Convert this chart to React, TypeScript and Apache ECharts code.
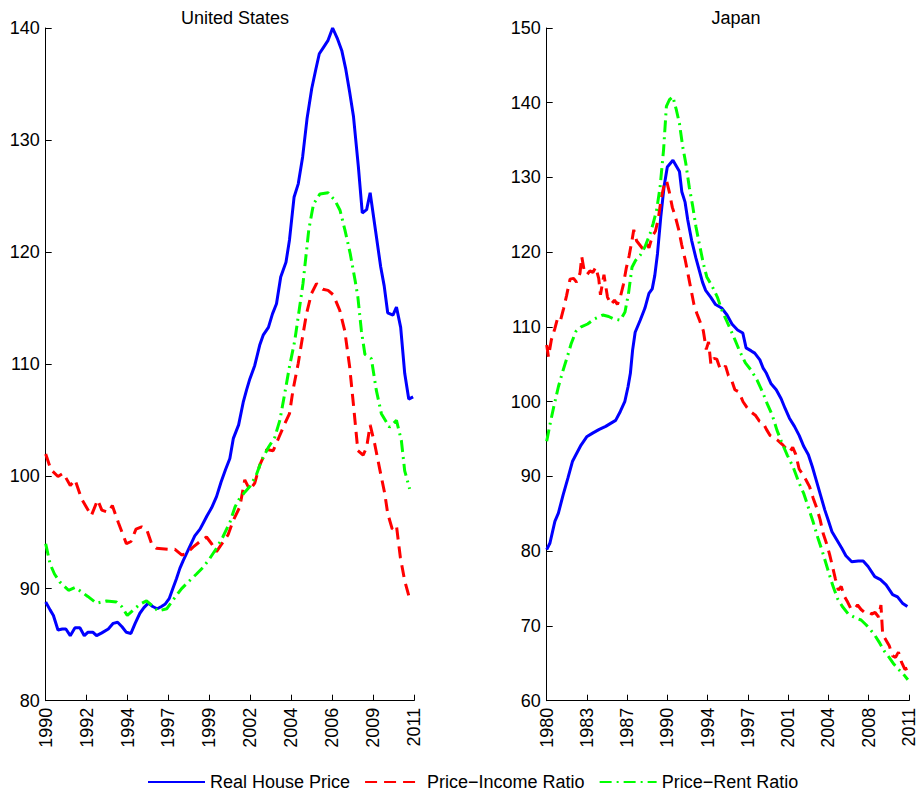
import React, { useEffect, useRef } from "react";
import * as echarts from "echarts";

const US_TICK_LABELS = ["1990", "1992", "1994", "1997", "1999", "2002", "2004", "2006", "2009", "2011"];
const JP_TICK_LABELS = ["1980", "1983", "1987", "1990", "1994", "1997", "2001", "2004", "2008", "2011"];
const LEGEND_NAMES = ["Real House Price", "Price\u2212Income Ratio", "Price\u2212Rent Ratio"];

const usRealHousePrice: number[][] = [
  [1990.0, 88.8], [1990.25, 88.1], [1990.44, 87.6], [1990.7, 86.3], [1990.95, 86.4], [1991.15, 86.4], [1991.4, 85.8],
  [1991.67, 86.5], [1991.95, 86.5], [1992.2, 85.8], [1992.4, 86.1], [1992.7, 86.1], [1992.9, 85.8], [1993.2, 86.05],
  [1993.57, 86.4], [1993.85, 86.9], [1994.1, 87.0], [1994.35, 86.6], [1994.6, 86.1], [1994.86, 86.0], [1995.1, 86.9],
  [1995.37, 87.8], [1995.6, 88.3], [1995.85, 88.7], [1996.1, 88.4], [1996.36, 88.2], [1996.6, 88.4], [1996.8, 88.6],
  [1997.04, 89.1], [1997.25, 90.0], [1997.46, 90.9], [1997.65, 91.8], [1997.84, 92.5], [1998.2, 93.7], [1998.5, 94.7],
  [1998.8, 95.3], [1999.0, 95.9], [1999.2, 96.5], [1999.46, 97.2], [1999.74, 98.2], [2000.0, 99.5], [2000.25, 100.6],
  [2000.5, 101.6], [2000.7, 103.4], [2001.0, 104.6], [2001.26, 106.6], [2001.45, 107.7], [2001.64, 108.7],
  [2001.92, 109.9], [2002.2, 111.7], [2002.4, 112.6], [2002.7, 113.3], [2002.93, 114.5], [2003.16, 115.4],
  [2003.4, 117.8], [2003.7, 119.1], [2003.9, 121.1], [2004.16, 124.9], [2004.4, 126.1], [2004.65, 128.5],
  [2004.9, 131.9], [2005.17, 134.6], [2005.4, 136.3], [2005.6, 137.7], [2005.85, 138.3], [2006.1, 138.9],
  [2006.36, 140.0], [2006.62, 139.1], [2006.88, 138.0], [2007.1, 136.4], [2007.33, 134.3], [2007.55, 132.1],
  [2007.83, 127.6], [2008.05, 123.5], [2008.3, 123.8], [2008.5, 125.3], [2008.8, 122.0], [2009.1, 118.7],
  [2009.3, 117.0], [2009.5, 114.6], [2009.8, 114.4], [2010.0, 115.1], [2010.24, 113.3], [2010.47, 109.2],
  [2010.7, 106.9], [2010.95, 107.1],
];

const usPriceIncome: number[][] = [
  [1990.0, 102.0], [1990.3, 100.6], [1990.7, 100.0], [1991.0, 100.3], [1991.4, 99.2], [1991.67, 99.7], [1992.05, 98.0],
  [1992.6, 96.5], [1992.96, 97.9], [1993.2, 97.0], [1993.57, 96.8], [1993.8, 97.4], [1994.14, 95.9], [1994.6, 94.0],
  [1994.86, 94.2], [1995.15, 95.3], [1995.47, 95.5], [1995.75, 95.3], [1996.04, 94.0], [1996.3, 93.6], [1997.0, 93.5],
  [1997.37, 93.5], [1997.75, 93.0], [1998.0, 93.1], [1998.4, 93.7], [1998.8, 94.2], [1999.17, 94.6], [1999.46, 94.0],
  [1999.74, 93.3], [2000.0, 93.9], [2000.4, 94.8], [2000.7, 96.1], [2001.07, 97.3], [2001.35, 99.7], [2001.64, 98.8],
  [2001.92, 99.4], [2002.2, 101.0], [2002.6, 102.4], [2002.97, 102.3], [2003.3, 103.5], [2003.63, 104.7],
  [2003.9, 105.6], [2004.1, 107.7], [2004.4, 110.1], [2004.64, 112.4], [2004.87, 114.5], [2005.15, 116.3],
  [2005.44, 117.2], [2005.8, 116.7], [2006.1, 116.6], [2006.4, 116.2], [2006.77, 114.8], [2007.05, 113.0],
  [2007.33, 109.8], [2007.56, 106.2], [2007.8, 102.3], [2008.1, 101.9], [2008.3, 102.6], [2008.5, 104.6],
  [2008.76, 102.9], [2009.04, 100.7], [2009.33, 98.5], [2009.5, 96.7], [2009.76, 95.3], [2010.0, 95.6],
  [2010.22, 92.8], [2010.47, 90.7], [2010.75, 89.1],
];

const usPriceRent: number[][] = [
  [1990.0, 94.0], [1990.25, 92.2], [1990.5, 91.3], [1990.8, 90.6], [1991.3, 89.85], [1991.67, 90.1], [1991.95, 89.8],
  [1992.4, 89.3], [1992.9, 88.7], [1993.47, 88.9], [1994.04, 88.8], [1994.33, 88.4], [1994.65, 87.6], [1995.0, 88.1],
  [1995.37, 88.6], [1995.75, 88.9], [1996.13, 88.4], [1996.4, 88.0], [1996.9, 88.2], [1997.27, 89.0], [1997.75, 90.0],
  [1998.2, 90.7], [1998.6, 91.3], [1998.98, 91.9], [1999.36, 92.7], [1999.74, 93.6], [2000.1, 94.6], [2000.5, 95.9],
  [2000.8, 97.3], [2001.0, 97.9], [2001.35, 98.6], [2001.64, 99.1], [2002.0, 100.1], [2002.3, 101.4], [2002.7, 102.6],
  [2003.06, 103.5], [2003.35, 105.0], [2003.63, 107.4], [2003.9, 109.8], [2004.2, 112.1], [2004.45, 114.8],
  [2004.67, 117.2], [2005.0, 122.0], [2005.27, 124.3], [2005.64, 125.2], [2006.1, 125.3], [2006.5, 124.6],
  [2006.78, 123.75], [2007.06, 122.0], [2007.36, 119.9], [2007.64, 117.5], [2007.8, 116.0], [2008.0, 113.0],
  [2008.2, 110.9], [2008.57, 110.5], [2008.85, 107.7], [2009.14, 105.6], [2009.6, 104.4], [2010.0, 105.0],
  [2010.28, 103.2], [2010.47, 100.5], [2010.75, 98.9],
];

const jpRealHousePrice: number[][] = [
  [1980.0, 80.2], [1980.28, 81.1], [1980.7, 84.0], [1981.0, 85.1], [1981.4, 87.5], [1981.82, 89.8], [1982.2, 92.0],
  [1982.5, 92.9], [1982.94, 94.2], [1983.42, 95.3], [1983.93, 95.8], [1984.5, 96.3], [1985.05, 96.7], [1985.47, 97.1],
  [1985.9, 97.5], [1986.3, 98.7], [1986.68, 100.0], [1986.96, 102.0], [1987.16, 103.8], [1987.35, 106.9],
  [1987.57, 109.3], [1988.0, 110.9], [1988.4, 112.5], [1988.75, 114.5], [1989.03, 115.1], [1989.25, 116.9],
  [1989.48, 119.8], [1989.76, 124.7], [1990.04, 128.75], [1990.32, 131.4], [1990.8, 132.3], [1991.36, 130.8],
  [1991.56, 128.1], [1991.84, 126.7], [1992.07, 124.3], [1992.4, 121.6], [1992.77, 119.2], [1993.05, 117.6],
  [1993.33, 116.0], [1993.6, 114.9], [1994.03, 114.0], [1994.45, 113.0], [1995.0, 112.5], [1995.43, 111.6],
  [1995.85, 110.4], [1996.33, 109.6], [1996.78, 109.2], [1997.06, 107.2], [1997.5, 106.8], [1997.8, 106.5],
  [1998.24, 105.6], [1998.52, 104.5], [1998.8, 103.8], [1999.2, 102.4], [1999.64, 101.6], [2000.06, 100.4],
  [2000.4, 99.1], [2000.77, 97.8], [2001.2, 96.7], [2001.6, 95.5], [2002.0, 94.0], [2002.39, 92.9], [2002.73, 91.3],
  [2003.06, 89.5], [2003.43, 87.5], [2003.8, 85.5], [2004.12, 84.0], [2004.41, 82.6], [2004.83, 81.5],
  [2005.25, 80.4], [2005.6, 79.4], [2006.1, 78.6], [2006.66, 78.7], [2007.08, 78.7], [2007.5, 77.95], [2008.07, 76.6],
  [2008.56, 76.2], [2009.04, 75.5], [2009.6, 74.2], [2010.02, 73.9], [2010.44, 73.05], [2010.86, 72.6],
];

const jpPriceIncome: number[][] = [
  [1980.0, 107.6], [1980.15, 106.0], [1980.4, 108.3], [1980.7, 109.8], [1980.95, 111.3], [1981.2, 111.0],
  [1981.45, 112.5], [1981.7, 114.2], [1982.0, 116.4], [1982.3, 116.5], [1982.55, 116.0], [1982.85, 117.2],
  [1983.0, 119.4], [1983.2, 117.6], [1983.45, 117.0], [1983.7, 117.5], [1983.95, 117.3], [1984.2, 118.0],
  [1984.45, 116.5], [1984.6, 114.3], [1984.9, 117.0], [1985.2, 114.0], [1985.5, 113.0], [1985.8, 113.6],
  [1986.05, 113.0], [1986.3, 114.0], [1986.55, 115.6], [1986.8, 117.8], [1987.05, 119.5], [1987.3, 121.6],
  [1987.45, 123.0], [1987.7, 121.5], [1987.95, 121.0], [1988.2, 120.5], [1988.5, 121.2], [1988.75, 120.6],
  [1989.05, 122.2], [1989.3, 122.8], [1989.55, 124.5], [1989.8, 127.2], [1990.05, 129.0], [1990.25, 129.6],
  [1990.5, 128.0], [1990.75, 126.0], [1991.0, 124.8], [1991.3, 123.0], [1991.55, 121.0], [1991.85, 119.0],
  [1992.1, 117.0], [1992.35, 115.0], [1992.6, 113.0], [1992.85, 111.8], [1993.1, 110.8], [1993.4, 109.5],
  [1993.65, 107.0], [1993.85, 108.0], [1994.05, 105.0], [1994.3, 105.8], [1994.55, 105.7], [1994.8, 104.6],
  [1995.05, 104.3], [1995.3, 104.8], [1995.55, 103.5], [1995.8, 103.0], [1996.1, 101.6], [1996.45, 101.3],
  [1996.8, 100.0], [1997.1, 99.3], [1997.5, 98.6], [1997.85, 98.2], [1998.2, 97.4], [1998.5, 97.2], [1998.8, 96.3],
  [1999.1, 95.5], [1999.45, 95.2], [1999.8, 94.8], [2000.15, 94.3], [2000.5, 93.7], [2000.8, 93.3], [2001.05, 93.9],
  [2001.3, 93.0], [2001.6, 91.0], [2001.9, 90.3], [2002.2, 89.5], [2002.5, 88.6], [2002.8, 87.1], [2003.1, 85.8],
  [2003.4, 84.2], [2003.65, 82.4], [2003.95, 81.0], [2004.2, 79.6], [2004.45, 78.0], [2004.7, 76.3], [2004.95, 74.8],
  [2005.2, 75.3], [2005.45, 74.0], [2005.75, 73.2], [2006.0, 72.4], [2006.3, 72.2], [2006.6, 72.8], [2006.9, 72.2],
  [2007.2, 71.8], [2007.5, 71.9], [2007.8, 71.6], [2008.1, 71.8], [2008.4, 71.2], [2008.6, 72.8], [2008.75, 68.8],
  [2009.0, 68.2], [2009.3, 67.4], [2009.6, 66.0], [2009.85, 65.8], [2010.1, 66.5], [2010.35, 65.2], [2010.65, 64.2],
  [2010.95, 64.4],
];

const jpPriceRent: number[][] = [
  [1980.0, 94.7], [1980.3, 97.1], [1980.6, 99.3], [1981.0, 102.0], [1981.4, 104.2], [1981.8, 106.2], [1982.1, 107.8],
  [1982.5, 109.4], [1982.95, 110.0], [1983.5, 110.4], [1984.1, 111.1], [1984.8, 111.6], [1985.3, 111.4],
  [1985.7, 111.1], [1986.3, 110.9], [1986.7, 112.0], [1987.0, 114.5], [1987.3, 118.0], [1987.6, 118.9],
  [1988.0, 119.6], [1988.4, 120.7], [1988.85, 122.5], [1989.1, 123.8], [1989.4, 125.6], [1989.7, 128.7],
  [1990.0, 133.7], [1990.24, 139.5], [1990.5, 140.4], [1990.8, 140.8], [1991.1, 139.0], [1991.36, 137.2],
  [1991.64, 134.1], [1991.9, 131.9], [1992.2, 128.7], [1992.5, 126.1], [1992.77, 123.4], [1993.05, 121.2],
  [1993.4, 118.5], [1993.7, 116.7], [1994.17, 115.4], [1994.6, 114.0], [1995.0, 112.2], [1995.43, 110.7],
  [1996.0, 108.7], [1996.5, 106.8], [1997.0, 105.2], [1997.5, 104.2], [1998.0, 102.9], [1998.5, 101.2],
  [1998.9, 99.6], [1999.3, 98.2], [1999.7, 96.2], [2000.1, 94.6], [2000.6, 92.8], [2001.1, 91.2], [2001.6, 89.1],
  [2002.0, 87.7], [2002.4, 85.8], [2002.8, 83.9], [2003.2, 81.8], [2003.6, 79.9], [2004.1, 77.3], [2004.5, 75.3],
  [2004.9, 73.6], [2005.3, 72.6], [2005.8, 71.6], [2006.4, 71.1], [2006.9, 70.8], [2007.3, 70.2], [2007.7, 69.5],
  [2008.1, 68.7], [2008.5, 67.7], [2008.9, 66.6], [2009.3, 65.8], [2009.7, 64.9], [2010.1, 64.2], [2010.5, 63.6],
  [2010.9, 62.8],
];

const FONT = "'Liberation Sans', Arial, Helvetica, sans-serif";
const BLUE = "#0000ff";
const RED = "#ff0000";
const GREEN = "#00ff00";

function tickValues(min: number, max: number, n: number): number[] {
  const out: number[] = [];
  for (let k = 0; k < n; k++) out.push(min + ((max - min) * k) / (n - 1));
  return out;
}

function makeXAxis(index: number, min: number, max: number, labels: string[]) {
  const vals = tickValues(min, max, labels.length);
  return {
    type: "value",
    gridIndex: index,
    min,
    max,
    axisLine: { show: true, lineStyle: { color: "#000", width: 1 } },
    axisTick: { show: true, inside: true, length: 6, customValues: vals, lineStyle: { color: "#000" } },
    axisLabel: {
      show: true,
      customValues: vals,
      rotate: 90,
      margin: 7,
      fontSize: 18,
      fontFamily: FONT,
      color: "#000",
      formatter: (v: number) => {
        const i = Math.round(((v - min) / (max - min)) * (labels.length - 1));
        return labels[i] ?? "";
      },
    },
    splitLine: { show: false },
  };
}

function makeYAxis(index: number, min: number, max: number) {
  return {
    type: "value",
    gridIndex: index,
    min,
    max,
    interval: 10,
    axisLine: { show: true, lineStyle: { color: "#000", width: 1 } },
    axisTick: { show: true, inside: true, length: 6, lineStyle: { color: "#000" } },
    axisLabel: { margin: 6, fontSize: 18, fontFamily: FONT, color: "#000" },
    splitLine: { show: false },
  };
}

function line(name: string, idx: number, data: number[][], color: string, type: any) {
  return {
    name,
    type: "line",
    xAxisIndex: idx,
    yAxisIndex: idx,
    data,
    symbol: "none",
    showSymbol: false,
    clip: true,
    lineStyle: { color, width: 3, type },
    itemStyle: { color },
  };
}

export default function App() {
  const ref = useRef<HTMLDivElement>(null);
  useEffect(() => {
    if (!ref.current) return;
    const chart = echarts.init(ref.current, undefined, { renderer: "svg" });
    const dash = [12, 7];
    const dashDot = [12, 5, 2, 5];
    chart.setOption({
      animation: false,
      backgroundColor: "#fff",
      textStyle: { fontFamily: FONT },
      title: [
        { text: "United States", left: 230, top: 4, textAlign: "center", textStyle: { fontSize: 18, fontWeight: "normal", color: "#000", fontFamily: FONT } },
        { text: "Japan", left: 731, top: 4, textAlign: "center", textStyle: { fontSize: 18, fontWeight: "normal", color: "#000", fontFamily: FONT } },
      ],
      legend: {
        data: LEGEND_NAMES,
        left: 142,
        top: 768,
        itemWidth: 57,
        itemHeight: 14,
        itemGap: 14,
        itemStyle: { opacity: 0, color: "transparent", borderWidth: 0 },
        textStyle: { fontSize: 18, lineHeight: 18, fontFamily: FONT, color: "#000" },
      },
      grid: [
        { left: 45.7, top: 28, width: 368.3, height: 672.7 },
        { left: 546.7, top: 28, width: 368.3, height: 672.7 },
      ],
      xAxis: [makeXAxis(0, 1990, 2011, US_TICK_LABELS), makeXAxis(1, 1980, 2011, JP_TICK_LABELS)],
      yAxis: [makeYAxis(0, 80, 140), makeYAxis(1, 60, 150)],
      series: [
        line(LEGEND_NAMES[0], 0, usRealHousePrice, BLUE, "solid"),
        line(LEGEND_NAMES[1], 0, usPriceIncome, RED, dash),
        line(LEGEND_NAMES[2], 0, usPriceRent, GREEN, dashDot),
        line(LEGEND_NAMES[0], 1, jpRealHousePrice, BLUE, "solid"),
        line(LEGEND_NAMES[1], 1, jpPriceIncome, RED, dash),
        line(LEGEND_NAMES[2], 1, jpPriceRent, GREEN, dashDot),
      ],
    });
    return () => chart.dispose();
  }, []);
  return <div ref={ref} style={{ position: "fixed", left: 0, top: 0, width: 918, height: 794 }} />;
}
